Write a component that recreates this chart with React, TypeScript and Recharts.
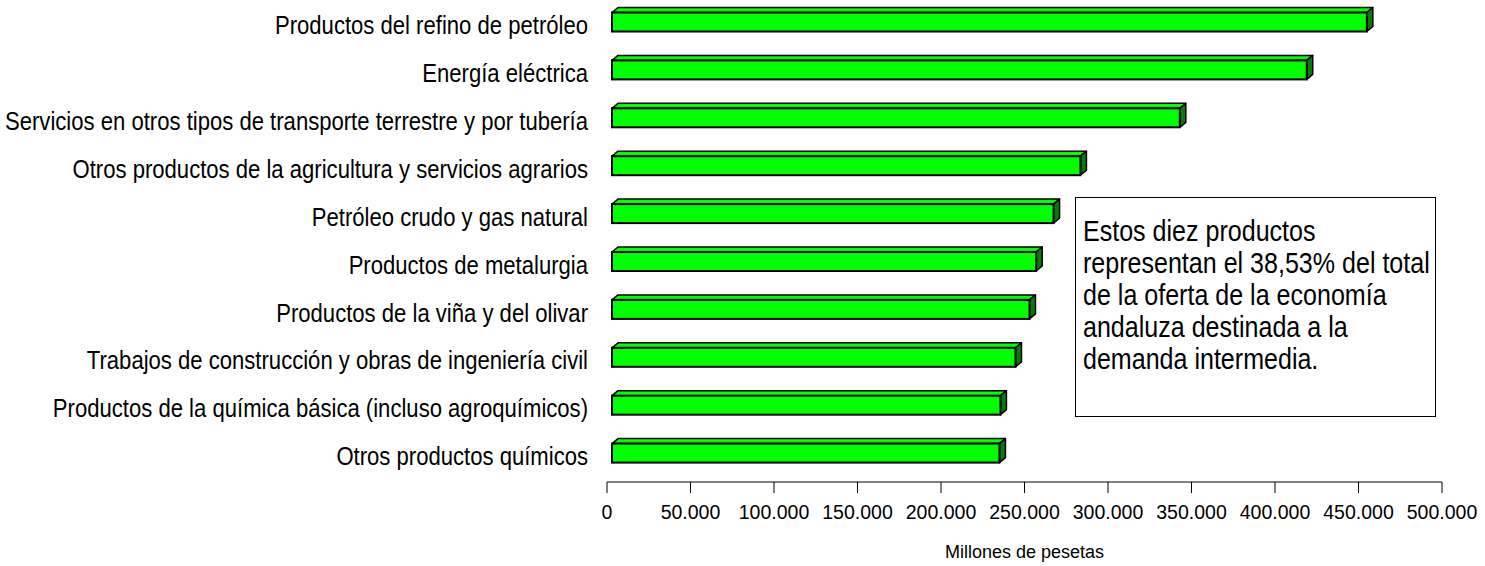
import React from "react";
import { BarChart, Bar, XAxis, YAxis } from "recharts";

const CATEGORIES = [
  "Productos del refino de petróleo",
  "Energía eléctrica",
  "Servicios en otros tipos de transporte terrestre y por tubería",
  "Otros productos de la agricultura y servicios agrarios",
  "Petróleo crudo y gas natural",
  "Productos de metalurgia",
  "Productos de la viña y del olivar",
  "Trabajos de construcción y obras de ingeniería civil",
  "Productos de la química básica (incluso agroquímicos)",
  "Otros productos químicos",
];

const VALUES = [455000, 419000, 343000, 283500, 267400, 257000, 253000, 244600, 235600, 235000];

const X_TICKS = [0, 50000, 100000, 150000, 200000, 250000, 300000, 350000, 400000, 450000, 500000];

const NOTE_LINES = [
  "Estos diez productos",
  "representan el 38,53% del total",
  "de la oferta de la economía",
  "andaluza destinada a la",
  "demanda intermedia.",
];

const data = CATEGORIES.map((name, i) => ({ name, value: VALUES[i] }));

const SANS = "'Liberation Sans', Arial, sans-serif";
// no Arial Narrow in the sandbox, so squeeze Liberation Sans
const LABEL_SCALE = 0.85;
const NOTE_SCALE = 0.835;

const formatThousands = (v: number) =>
  v === 0 ? "0" : v.toString().replace(/\B(?=(\d{3})+(?!\d))/g, ".");

// front face + top + side, like the old Excel 3D bars
const Bar3D = (props: any) => {
  const { x, y, width, height } = props;
  const dx = 6;
  const dy = -5;
  const fx = x + 5;
  const fy = y - 4.5;
  const fw = width - 5;
  const h = height;
  const top = `${fx},${fy} ${fx + dx},${fy + dy} ${fx + fw + dx},${fy + dy} ${fx + fw},${fy}`;
  const side = `${fx + fw},${fy} ${fx + fw + dx},${fy + dy} ${fx + fw + dx},${fy + h + dy} ${fx + fw},${fy + h}`;
  return (
    <g>
      <polygon points={top} fill="#00ff00" stroke="#000" strokeWidth={1.5} strokeLinejoin="round" />
      <polygon points={side} fill="#008000" stroke="#000" strokeWidth={1.5} strokeLinejoin="round" />
      <rect x={fx} y={fy} width={fw} height={h} fill="#00ff00" stroke="#000" strokeWidth={2} />
    </g>
  );
};

const CategoryTick = (props: any) => {
  const { x, y, payload } = props;
  return (
    <text
      transform={`translate(${x - 17},${y - 2}) scale(${LABEL_SCALE},1)`}
      textAnchor="end"
      dominantBaseline="central"
      fontFamily={SANS}
      fontSize={26}
      fill="#000"
    >
      {payload.value}
    </text>
  );
};

export default function App() {
  return (
    <div style={{ position: "absolute", left: 0, top: 0, width: 1485, height: 566, background: "#fff" }}>
      <BarChart
        width={1485}
        height={566}
        data={data}
        layout="vertical"
        margin={{ top: 3, right: 43, bottom: 0, left: 0 }}
        barCategoryGap={0}
      >
        <XAxis
          type="number"
          domain={[0, 500000]}
          ticks={X_TICKS}
          tickFormatter={formatThousands}
          height={84}
          tickSize={11}
          tickMargin={12}
          stroke="#000"
          tick={{ fill: "#000", fontSize: 19.5, fontFamily: SANS }}
          label={{
            value: "Millones de pesetas",
            position: "insideBottom",
            offset: 8,
            fill: "#000",
            fontSize: 18,
            fontFamily: SANS,
          }}
        />
        <YAxis
          type="category"
          dataKey="name"
          width={607}
          axisLine={false}
          tickLine={false}
          tickSize={0}
          interval={0}
          tick={<CategoryTick />}
        />
        <Bar dataKey="value" barSize={19} shape={<Bar3D />} isAnimationActive={false} />
      </BarChart>
      <div
        style={{
          position: "absolute",
          left: 1075,
          top: 197,
          width: 361,
          height: 220,
          border: "1.5px solid #000",
          boxSizing: "border-box",
          padding: "17px 0 0 7px",
          fontFamily: SANS,
          fontSize: 30,
          lineHeight: "32px",
          color: "#000",
          background: "#fff",
          overflow: "hidden",
        }}
      >
        {NOTE_LINES.map((line) => (
          <div
            key={line}
            style={{ transform: `scaleX(${NOTE_SCALE})`, transformOrigin: "left center", whiteSpace: "nowrap" }}
          >
            {line}
          </div>
        ))}
      </div>
    </div>
  );
}
